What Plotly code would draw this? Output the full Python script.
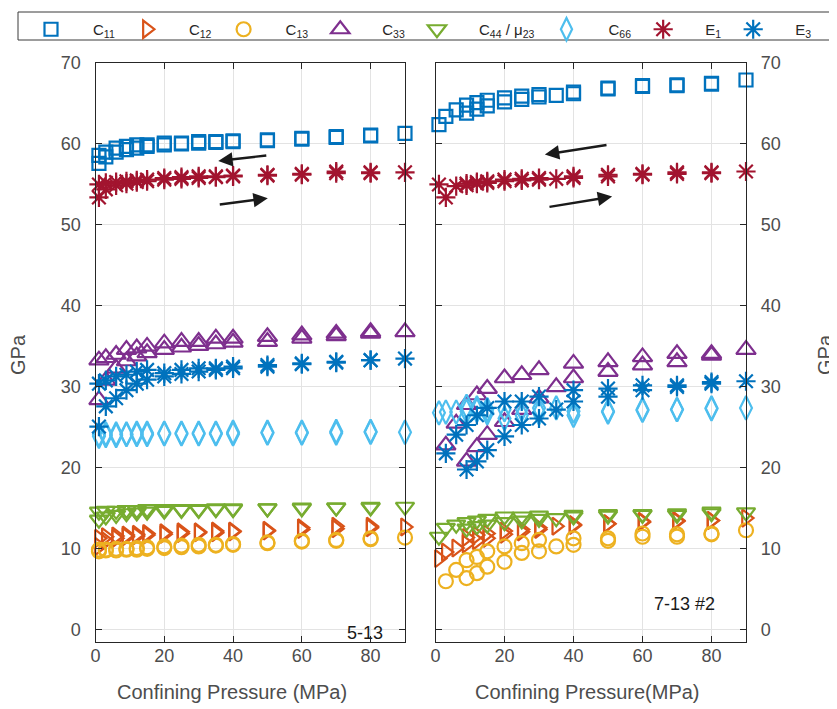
import plotly.graph_objects as go

# ---------------- data ----------------
# Left panel (sample 5-13): loading and unloading pressures (MPa)
P_LEFT_LOAD = [1, 3, 6, 9, 12, 15, 20, 25, 30, 35, 40, 50, 60, 70, 80, 90]
P_LEFT_UNLOAD = [80, 70, 60, 50, 40, 35, 30, 25, 20, 15, 12, 9, 6, 3, 1]

C11_L_LOAD = [57.6, 58.4, 59.0, 59.3, 59.5, 59.7, 59.9, 60.0, 60.1, 60.2, 60.3, 60.4, 60.6, 60.8, 61.0, 61.3]
C11_L_UNLOAD = [61.1, 60.9, 60.7, 60.5, 60.4, 60.3, 60.3, 60.1, 60.1, 59.9, 59.9, 59.7, 59.5, 59.0, 58.6]
C12_L_LOAD = [10.3, 11.0, 11.3, 11.5, 11.6, 11.7, 11.8, 11.9, 12.0, 12.0, 12.1, 12.2, 12.4, 12.5, 12.6, 12.7]
C12_L_UNLOAD = [12.8, 12.8, 12.6, 12.3, 12.2, 12.2, 12.1, 12.1, 12.0, 11.9, 11.8, 11.7, 11.6, 11.5, 11.3]
C13_L_LOAD = [9.7, 9.8, 9.8, 9.9, 9.9, 10.0, 10.1, 10.2, 10.3, 10.4, 10.5, 10.7, 10.9, 11.0, 11.2, 11.4]
C13_L_UNLOAD = [11.3, 11.1, 11.0, 10.8, 10.6, 10.5, 10.5, 10.4, 10.3, 10.2, 10.1, 10.0, 10.0, 9.9, 9.9]
C33_L_LOAD = [28.4, 30.8, 32.3, 33.2, 33.8, 34.2, 34.6, 34.9, 35.1, 35.3, 35.5, 35.6, 36.0, 36.3, 36.6, 36.8]
C33_L_UNLOAD = [36.8, 36.6, 36.4, 36.2, 36.0, 36.0, 35.6, 35.6, 35.4, 35.0, 34.8, 34.6, 34.0, 33.6, 33.3]
C44_L_LOAD = [13.6, 14.0, 14.2, 14.4, 14.5, 14.6, 14.7, 14.8, 14.8, 14.9, 14.9, 15.0, 15.0, 15.1, 15.1, 15.2]
C44_L_UNLOAD = [15.2, 15.1, 15.1, 15.0, 15.0, 15.0, 14.9, 14.9, 14.9, 14.9, 14.8, 14.8, 14.7, 14.7, 14.6]
C66_L_LOAD = [23.9, 24.0, 24.0, 24.1, 24.1, 24.1, 24.2, 24.2, 24.2, 24.2, 24.2, 24.3, 24.3, 24.3, 24.4, 24.4]
C66_L_UNLOAD = [24.5, 24.5, 24.4, 24.4, 24.4, 24.3, 24.3, 24.3, 24.3, 24.3, 24.3, 24.2, 24.2, 24.2, 24.1]
E1_L_LOAD = [53.4, 54.4, 54.9, 55.1, 55.3, 55.4, 55.6, 55.7, 55.8, 55.9, 56.0, 56.1, 56.2, 56.4, 56.4, 56.5]
E1_L_UNLOAD = [56.5, 56.6, 56.3, 56.2, 56.1, 56.0, 56.0, 55.9, 55.8, 55.6, 55.5, 55.4, 55.3, 55.2, 55.0]
E3_L_LOAD = [25.1, 27.6, 28.6, 29.6, 30.4, 30.9, 31.3, 31.6, 31.9, 32.1, 32.3, 32.5, 32.8, 33.0, 33.3, 33.5]
E3_L_UNLOAD = [33.3, 33.1, 32.9, 32.7, 32.5, 32.3, 32.3, 32.1, 31.7, 32.1, 31.9, 31.5, 31.3, 30.8, 30.4]

# Right panel (sample 7-13 #2): two pressure branches (MPa)
P_RIGHT_A = [1, 3, 6, 9, 12, 15, 20, 25, 30, 40, 50, 60, 70, 80]
P_RIGHT_B = [9, 12, 15, 20, 25, 30, 35, 40, 50, 60, 70, 80, 90]

C11_R_A = [62.4, 63.4, 64.2, 64.8, 65.1, 65.4, 65.7, 65.9, 66.1, 66.4, 66.9, 67.2, 67.3, 67.5]
C11_R_B = [63.8, 64.3, 64.7, 65.2, 65.5, 65.8, 66.0, 66.2, 66.8, 67.1, 67.2, 67.4, 67.9]
C12_R_A = [8.8, 9.6, 10.1, 10.6, 11.0, 11.3, 11.8, 12.1, 12.4, 12.9, 13.1, 13.4, 13.5, 13.5]
C12_R_B = [11.4, 11.7, 11.9, 12.2, 12.4, 12.6, 12.8, 13.0, 13.1, 13.3, 13.4, 13.5, 13.8]
C13_R_A = [None, 6.0, 7.4, 8.6, 9.0, 9.7, 10.3, 10.7, 11.1, 11.3, 11.3, 11.9, 11.8, 11.9]
C13_R_B = [6.4, 7.0, 7.8, 8.4, 9.5, 9.7, 10.3, 10.5, 11.0, 11.5, 11.5, 11.8, 12.3]
C33_R_A = [None, 22.8, 25.5, 27.8, 29.0, 29.8, 31.1, 31.5, 32.1, 32.9, 33.1, 33.7, 34.1, 34.1]
C33_R_B = [20.8, 22.6, 24.1, 25.7, 27.2, 28.6, 30.0, 31.1, 31.9, 32.7, 33.1, 33.9, 34.6]
C44_R_A = [11.5, 12.6, 13.0, 13.3, 13.5, 13.7, 14.0, 14.0, 14.1, 14.2, 14.3, 14.3, 14.4, 14.6]
C44_R_B = [12.5, 12.8, 13.0, 13.3, 13.5, 13.7, 13.8, 14.0, 14.1, 14.2, 14.2, 14.4, 14.5]
C66_R_A = [26.8, 26.9, 26.9, 27.0, 27.1, 27.2, 27.2, 27.3, 27.4, 27.0, 27.0, 27.2, 27.2, 27.4]
C66_R_B = [27.6, 27.4, 26.8, 26.1, 26.5, 26.8, 27.4, 26.5, 26.9, 27.1, 27.2, 27.3, 27.4]
E1_R_A = [55.0, 53.4, 54.8, 55.1, 55.3, 55.4, 55.6, 55.7, 55.8, 56.0, 56.2, 56.3, 56.5, 56.5]
E1_R_B = [54.9, 55.1, 55.2, 55.4, 55.5, 55.6, 55.7, 55.8, 56.0, 56.2, 56.3, 56.4, 56.6]
E3_R_A = [None, 21.8, 24.1, 25.3, 26.5, 27.4, 28.2, 28.2, 28.8, 29.6, 29.8, 30.2, 30.2, 30.6]
E3_R_B = [19.8, 20.8, 22.2, 23.9, 25.3, 26.1, 27.2, 28.2, 28.8, 29.6, 30.0, 30.4, 30.7]

SERIES_NAMES = ["C<sub>11</sub>", "C<sub>12</sub>", "C<sub>13</sub>", "C<sub>33</sub>",
                "C<sub>44</sub> / \u03bc<sub>23</sub>", "C<sub>66</sub>", "E<sub>1</sub>", "E<sub>3</sub>"]

X_TICKS = [0, 20, 40, 60, 80]
Y_TICKS = [0, 10, 20, 30, 40, 50, 60, 70]
X_RANGE = [0, 90]
Y_RANGE = [-1.5, 70]

# arrows (data coordinates: tail x, tail y, head x, head y)
ARROWS_LEFT = [(50.1, 58.6, 35.7, 57.9), (35.7, 52.5, 50.1, 53.3)]
ARROWS_RIGHT = [(50.0, 59.9, 31.7, 58.7), (32.6, 52.2, 51.2, 53.5)]

# ---------------- styling ----------------
COLORS = ["#0072BD", "#D95319", "#EDB120", "#7E2F8E", "#77AC30", "#4DBEEE", "#A2142F", "#0072BD"]
SYMBOLS = ["square-open", "triangle-right-open", "circle-open", "triangle-up-open",
           "triangle-down-open", "diamond-tall-open", "asterisk-open", "asterisk-open"]
SIZES = [13, 15, 14, 17, 16, 17, 16, 16]

left_y = [C11_L_LOAD + C11_L_UNLOAD, C12_L_LOAD + C12_L_UNLOAD, C13_L_LOAD + C13_L_UNLOAD,
          C33_L_LOAD + C33_L_UNLOAD, C44_L_LOAD + C44_L_UNLOAD, C66_L_LOAD + C66_L_UNLOAD,
          E1_L_LOAD + E1_L_UNLOAD, E3_L_LOAD + E3_L_UNLOAD]
right_y = [C11_R_A + C11_R_B, C12_R_A + C12_R_B, C13_R_A + C13_R_B, C33_R_A + C33_R_B,
           C44_R_A + C44_R_B, C66_R_A + C66_R_B, E1_R_A + E1_R_B, E3_R_A + E3_R_B]
left_x = P_LEFT_LOAD + P_LEFT_UNLOAD
right_x = P_RIGHT_A + P_RIGHT_B

fig = go.Figure()
for i, name in enumerate(SERIES_NAMES):
    mk = dict(symbol=SYMBOLS[i], size=SIZES[i], color=COLORS[i], line=dict(width=2.2, color=COLORS[i]))
    fig.add_trace(go.Scatter(x=left_x, y=left_y[i], mode="markers", name="\u2003" + name, legendgroup=name,
                             marker=mk, xaxis="x", yaxis="y", cliponaxis=False, showlegend=True))
    fig.add_trace(go.Scatter(x=right_x, y=right_y[i], mode="markers", name=name, legendgroup=name,
                             marker=mk, xaxis="x2", yaxis="y2", cliponaxis=False, showlegend=False))

# page body has an 8px margin: figure occupies window minus that offset
OFF = 8
W, H = 837 - OFF, 709 - OFF


def px(x):
    return (x - OFF) / W


def py(y):
    return 1 - (y - OFF) / H


FONT = "Liberation Sans, Arial, Helvetica, sans-serif"
TICKCOL = "#4d4d4d"
AXCOL = "#262626"

common_x = dict(range=X_RANGE, tickvals=X_TICKS, showgrid=True, gridcolor="#e3e3e3", gridwidth=1,
                showline=True, linecolor=AXCOL, linewidth=1.2, mirror="ticks", ticks="inside",
                ticklen=6, tickcolor=AXCOL, zeroline=False, automargin=False, ticklabelstandoff=-3,
                tickfont=dict(family=FONT, size=18, color=TICKCOL))
common_y = dict(range=Y_RANGE, tickvals=Y_TICKS, showgrid=True, gridcolor="#e3e3e3", gridwidth=1,
                showline=True, linecolor=AXCOL, linewidth=1.2, mirror="ticks", ticks="inside",
                ticklen=6, tickcolor=AXCOL, zeroline=False, automargin=False, ticklabelstandoff=10,
                tickfont=dict(family=FONT, size=18, color=TICKCOL))

ydom = [py(642), py(63)]
fig.update_layout(
    width=W, height=H, margin=dict(l=0, r=0, t=0, b=0, autoexpand=False),
    paper_bgcolor="white", plot_bgcolor="white",
    xaxis=dict(common_x, domain=[px(95.5), px(405)], anchor="y"),
    yaxis=dict(common_y, domain=ydom, anchor="x", side="left"),
    xaxis2=dict(common_x, domain=[px(435.5), px(746)], anchor="y2"),
    yaxis2=dict(common_y, domain=ydom, anchor="x2", side="right"),
    showlegend=True,
    legend=dict(orientation="h", x=px(24), y=py(13), xanchor="left", yanchor="top",
                bgcolor="rgba(0,0,0,0)", borderwidth=0, itemwidth=44,
                font=dict(family=FONT, size=15, color="#262626"), traceorder="normal"),
    font=dict(family=FONT),
)

# legend box
fig.add_shape(type="rect", xref="paper", yref="paper", x0=px(18), x1=px(832),
              y0=py(40), y1=py(12), line=dict(color="#3a3a3a", width=1))

ann = []
for (x0, y0, x1, y1) in ARROWS_LEFT:
    ann.append(dict(x=x1, y=y1, ax=x0, ay=y0, xref="x", yref="y", axref="x", ayref="y",
                    showarrow=True, arrowhead=2, arrowsize=1.2, arrowwidth=2.4, arrowcolor="#1a1a1a", text=""))
for (x0, y0, x1, y1) in ARROWS_RIGHT:
    ann.append(dict(x=x1, y=y1, ax=x0, ay=y0, xref="x2", yref="y2", axref="x2", ayref="y2",
                    showarrow=True, arrowhead=2, arrowsize=1.2, arrowwidth=2.4, arrowcolor="#1a1a1a", text=""))

titlefont = dict(family=FONT, size=20, color=TICKCOL)
ann += [
    dict(text="Confining Pressure (MPa)", x=px(232), y=py(692), xref="paper", yref="paper",
         xanchor="center", yanchor="middle", showarrow=False, font=titlefont),
    dict(text="Confining Pressure(MPa)", x=px(587), y=py(692), xref="paper", yref="paper",
         xanchor="center", yanchor="middle", showarrow=False, font=titlefont),
    dict(text="GPa", x=px(18), y=py(355), xref="paper", yref="paper", textangle=-90,
         xanchor="center", yanchor="middle", showarrow=False, font=titlefont),
    dict(text="GPa", x=px(825), y=py(355), xref="paper", yref="paper", textangle=-90,
         xanchor="center", yanchor="middle", showarrow=False, font=titlefont),
    dict(text="5-13", x=78.3, y=-0.4, xref="x", yref="y", showarrow=False,
         xanchor="center", yanchor="middle", font=dict(family=FONT, size=18, color="#1a1a1a")),
    dict(text="7-13 #2", x=72.3, y=3.2, xref="x2", yref="y2", showarrow=False,
         xanchor="center", yanchor="middle", font=dict(family=FONT, size=18, color="#1a1a1a")),
]
fig.update_layout(annotations=ann)

fig.write_html("out.html")
